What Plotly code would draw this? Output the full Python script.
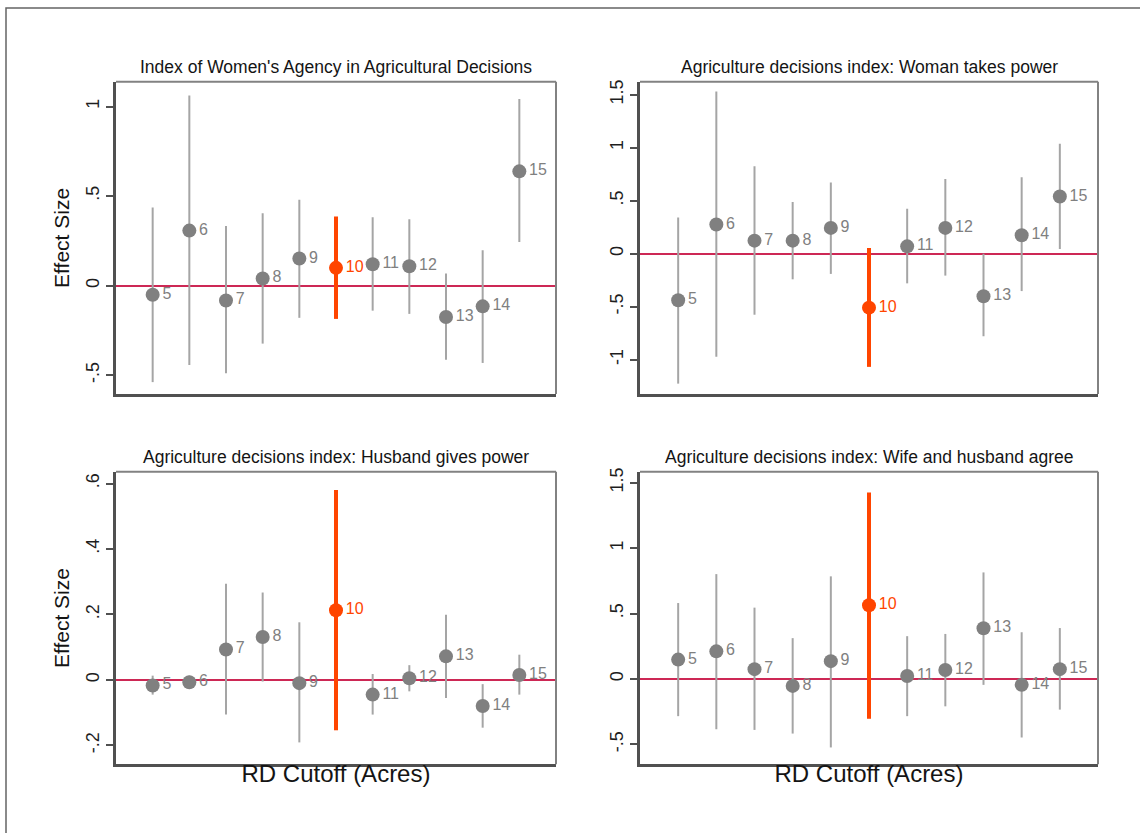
import plotly.graph_objects as go

cutoffs = [5, 6, 7, 8, 9, 10, 11, 12, 13, 14, 15]
cutoff_labels = [str(c) for c in cutoffs]
highlight = 10

titles = [
    "Index of Women's Agency in Agricultural Decisions",
    "Agriculture decisions index: Woman takes power",
    "Agriculture decisions index: Husband gives power",
    "Agriculture decisions index: Wife and husband agree",
]

# Panel 1: Index of Women's Agency
est1 = [-0.051, 0.307, -0.083, 0.040, 0.151, 0.099, 0.119, 0.108, -0.175, -0.116, 0.638]
lo1 = [-0.539, -0.443, -0.489, -0.324, -0.180, -0.186, -0.140, -0.158, -0.414, -0.432, 0.243]
hi1 = [0.436, 1.061, 0.333, 0.404, 0.480, 0.386, 0.382, 0.371, 0.068, 0.197, 1.042]

# Panel 2: Woman takes power
est2 = [-0.438, 0.276, 0.124, 0.124, 0.244, -0.508, 0.070, 0.244, -0.400, 0.175, 0.540]
lo2 = [-1.225, -0.971, -0.575, -0.241, -0.190, -1.067, -0.279, -0.206, -0.778, -0.352, 0.044]
hi2 = [0.343, 1.530, 0.825, 0.489, 0.673, 0.054, 0.425, 0.705, 0.000, 0.721, 1.038]

# Panel 3: Husband gives power
est3 = [-0.017, -0.007, 0.093, 0.131, -0.010, 0.213, -0.045, 0.005, 0.072, -0.080, 0.015]
lo3 = [-0.045, -0.028, -0.106, -0.005, -0.191, -0.154, -0.106, -0.035, -0.055, -0.146, -0.045]
hi3 = [0.013, 0.013, 0.294, 0.267, 0.176, 0.580, 0.018, 0.045, 0.199, -0.013, 0.077]

# Panel 4: Wife and husband agree
est4 = [0.148, 0.211, 0.075, -0.053, 0.136, 0.563, 0.023, 0.068, 0.387, -0.045, 0.075]
lo4 = [-0.284, -0.384, -0.389, -0.417, -0.523, -0.304, -0.284, -0.209, -0.045, -0.447, -0.234]
hi4 = [0.580, 0.801, 0.545, 0.312, 0.784, 1.425, 0.327, 0.344, 0.814, 0.357, 0.389]

y_ranges = [[-0.606, 1.139], [-1.324, 1.624], [-0.258, 0.636], [-0.652, 1.583]]
y_tickvals = [
    [-0.5, 0, 0.5, 1],
    [-1, -0.5, 0, 0.5, 1, 1.5],
    [-0.2, 0, 0.2, 0.4, 0.6],
    [-0.5, 0, 0.5, 1, 1.5],
]
y_ticktext = [
    ["-.5", "0", ".5", "1"],
    ["-1", "-.5", "0", ".5", "1", "1.5"],
    ["-.2", "0", ".2", ".4", ".6"],
    ["-.5", "0", ".5", "1", "1.5"],
]

panels = [(est1, lo1, hi1), (est2, lo2, hi2), (est3, lo3, hi3), (est4, lo4, hi4)]

W, H = 1140, 833
def px(x):
    return x / W
def py(y):
    return 1 - y / H

x_domains = [[px(116), px(556)], [px(640), px(1098)], [px(116), px(556)], [px(640), px(1098)]]
y_domains = [[py(392), py(78)], [py(392), py(78)], [py(764), py(470)], [py(764), py(470)]]

FONT = "Liberation Sans, Arial, sans-serif"
GRAY_M = "rgb(128,128,128)"
GRAY_L = "rgb(165,165,165)"
ORANGE = "rgb(255,69,0)"
ZERO = "rgb(205,40,85)"

fig = go.Figure()

for i, (est, lo, hi) in enumerate(panels):
    xa = "x" if i == 0 else f"x{i+1}"
    ya = "y" if i == 0 else f"y{i+1}"
    xs, ys, ep, em, tx = [], [], [], [], []
    hx, hy, hep, hem, htx = [], [], [], [], []
    for c, lab, e, l, h in zip(cutoffs, cutoff_labels, est, lo, hi):
        if c == highlight:
            hx.append(c); hy.append(e); hep.append(h - e); hem.append(e - l); htx.append(lab)
        else:
            xs.append(c); ys.append(e); ep.append(h - e); em.append(e - l); tx.append(lab)
    fig.add_trace(go.Scatter(
        x=xs, y=ys, mode="markers+text", text=tx, textposition="middle right",
        textfont=dict(family=FONT, size=16, color=GRAY_M),
        marker=dict(color=GRAY_M, size=14),
        error_y=dict(type="data", symmetric=False, array=ep, arrayminus=em,
                     color=GRAY_L, thickness=2, width=0),
        xaxis=xa, yaxis=ya, showlegend=False, cliponaxis=False,
    ))
    fig.add_trace(go.Scatter(
        x=hx, y=hy, mode="markers+text", text=htx, textposition="middle right",
        textfont=dict(family=FONT, size=16, color=ORANGE),
        marker=dict(color=ORANGE, size=14),
        error_y=dict(type="data", symmetric=False, array=hep, arrayminus=hem,
                     color=ORANGE, thickness=4, width=0),
        xaxis=xa, yaxis=ya, showlegend=False, cliponaxis=False,
    ))

layout = dict(
    width=W, height=H, margin=dict(l=0, r=0, t=0, b=0),
    paper_bgcolor="white", plot_bgcolor="white",
    font=dict(family=FONT, color="rgb(30,30,30)"),
    showlegend=False,
)
annotations = []
shapes = []
for i in range(4):
    xk = "xaxis" if i == 0 else f"xaxis{i+1}"
    yk = "yaxis" if i == 0 else f"yaxis{i+1}"
    xa = "x" if i == 0 else f"x{i+1}"
    ya = "y" if i == 0 else f"y{i+1}"
    layout[xk] = dict(
        domain=x_domains[i], range=[4, 16], anchor=ya,
        showgrid=False, zeroline=False, showticklabels=False, ticks="",
        showline=True, linecolor="rgb(80,80,80)", linewidth=2.5, mirror=False,
        title=dict(text="RD Cutoff (Acres)" if i >= 2 else "",
                   font=dict(family=FONT, size=24, color="rgb(20,20,20)"), standoff=0),
    )
    layout[yk] = dict(
        domain=y_domains[i], range=y_ranges[i], anchor=xa,
        showgrid=False, zeroline=True, zerolinecolor=ZERO, zerolinewidth=1.5,
        tickvals=y_tickvals[i], ticktext=y_ticktext[i], tickangle=-90,
        ticks="outside", ticklen=7, tickwidth=1.5, tickcolor="rgb(80,80,80)",
        tickfont=dict(family=FONT, size=18, color="rgb(30,30,30)"),
        showline=True, linecolor="rgb(80,80,80)", linewidth=2.5, mirror=False,
        title=dict(text="Effect Size" if i in (0, 2) else "",
                   font=dict(family=FONT, size=21, color="rgb(20,20,20)"), standoff=8),
    )
    # top and right frame lines (lighter)
    shapes.append(dict(type="line", xref=f"{xa} domain", yref=f"{ya} domain",
                       x0=0, x1=1, y0=1, y1=1, line=dict(color="rgb(130,130,130)", width=2)))
    shapes.append(dict(type="line", xref=f"{xa} domain", yref=f"{ya} domain",
                       x0=1, x1=1, y0=0, y1=1, line=dict(color="rgb(130,130,130)", width=2)))
    annotations.append(dict(
        text=titles[i], xref=f"{xa} domain", yref=f"{ya} domain",
        x=0.5, y=1, yshift=3, xanchor="center", yanchor="bottom", showarrow=False,
        font=dict(family=FONT, size=17.5, color="rgb(20,20,20)"),
    ))

# outer page frame
shapes.append(dict(type="rect", xref="paper", yref="paper",
                   x0=px(6), x1=1.02, y0=-0.02, y1=py(4),
                   line=dict(color="rgb(100,100,100)", width=1.5), layer="below"))

layout["annotations"] = annotations
layout["shapes"] = shapes
fig.update_layout(**layout)

fig.write_html("out.html", config={"displayModeBar": False},
               post_script="document.body.style.margin='0';document.body.style.padding='0';")
